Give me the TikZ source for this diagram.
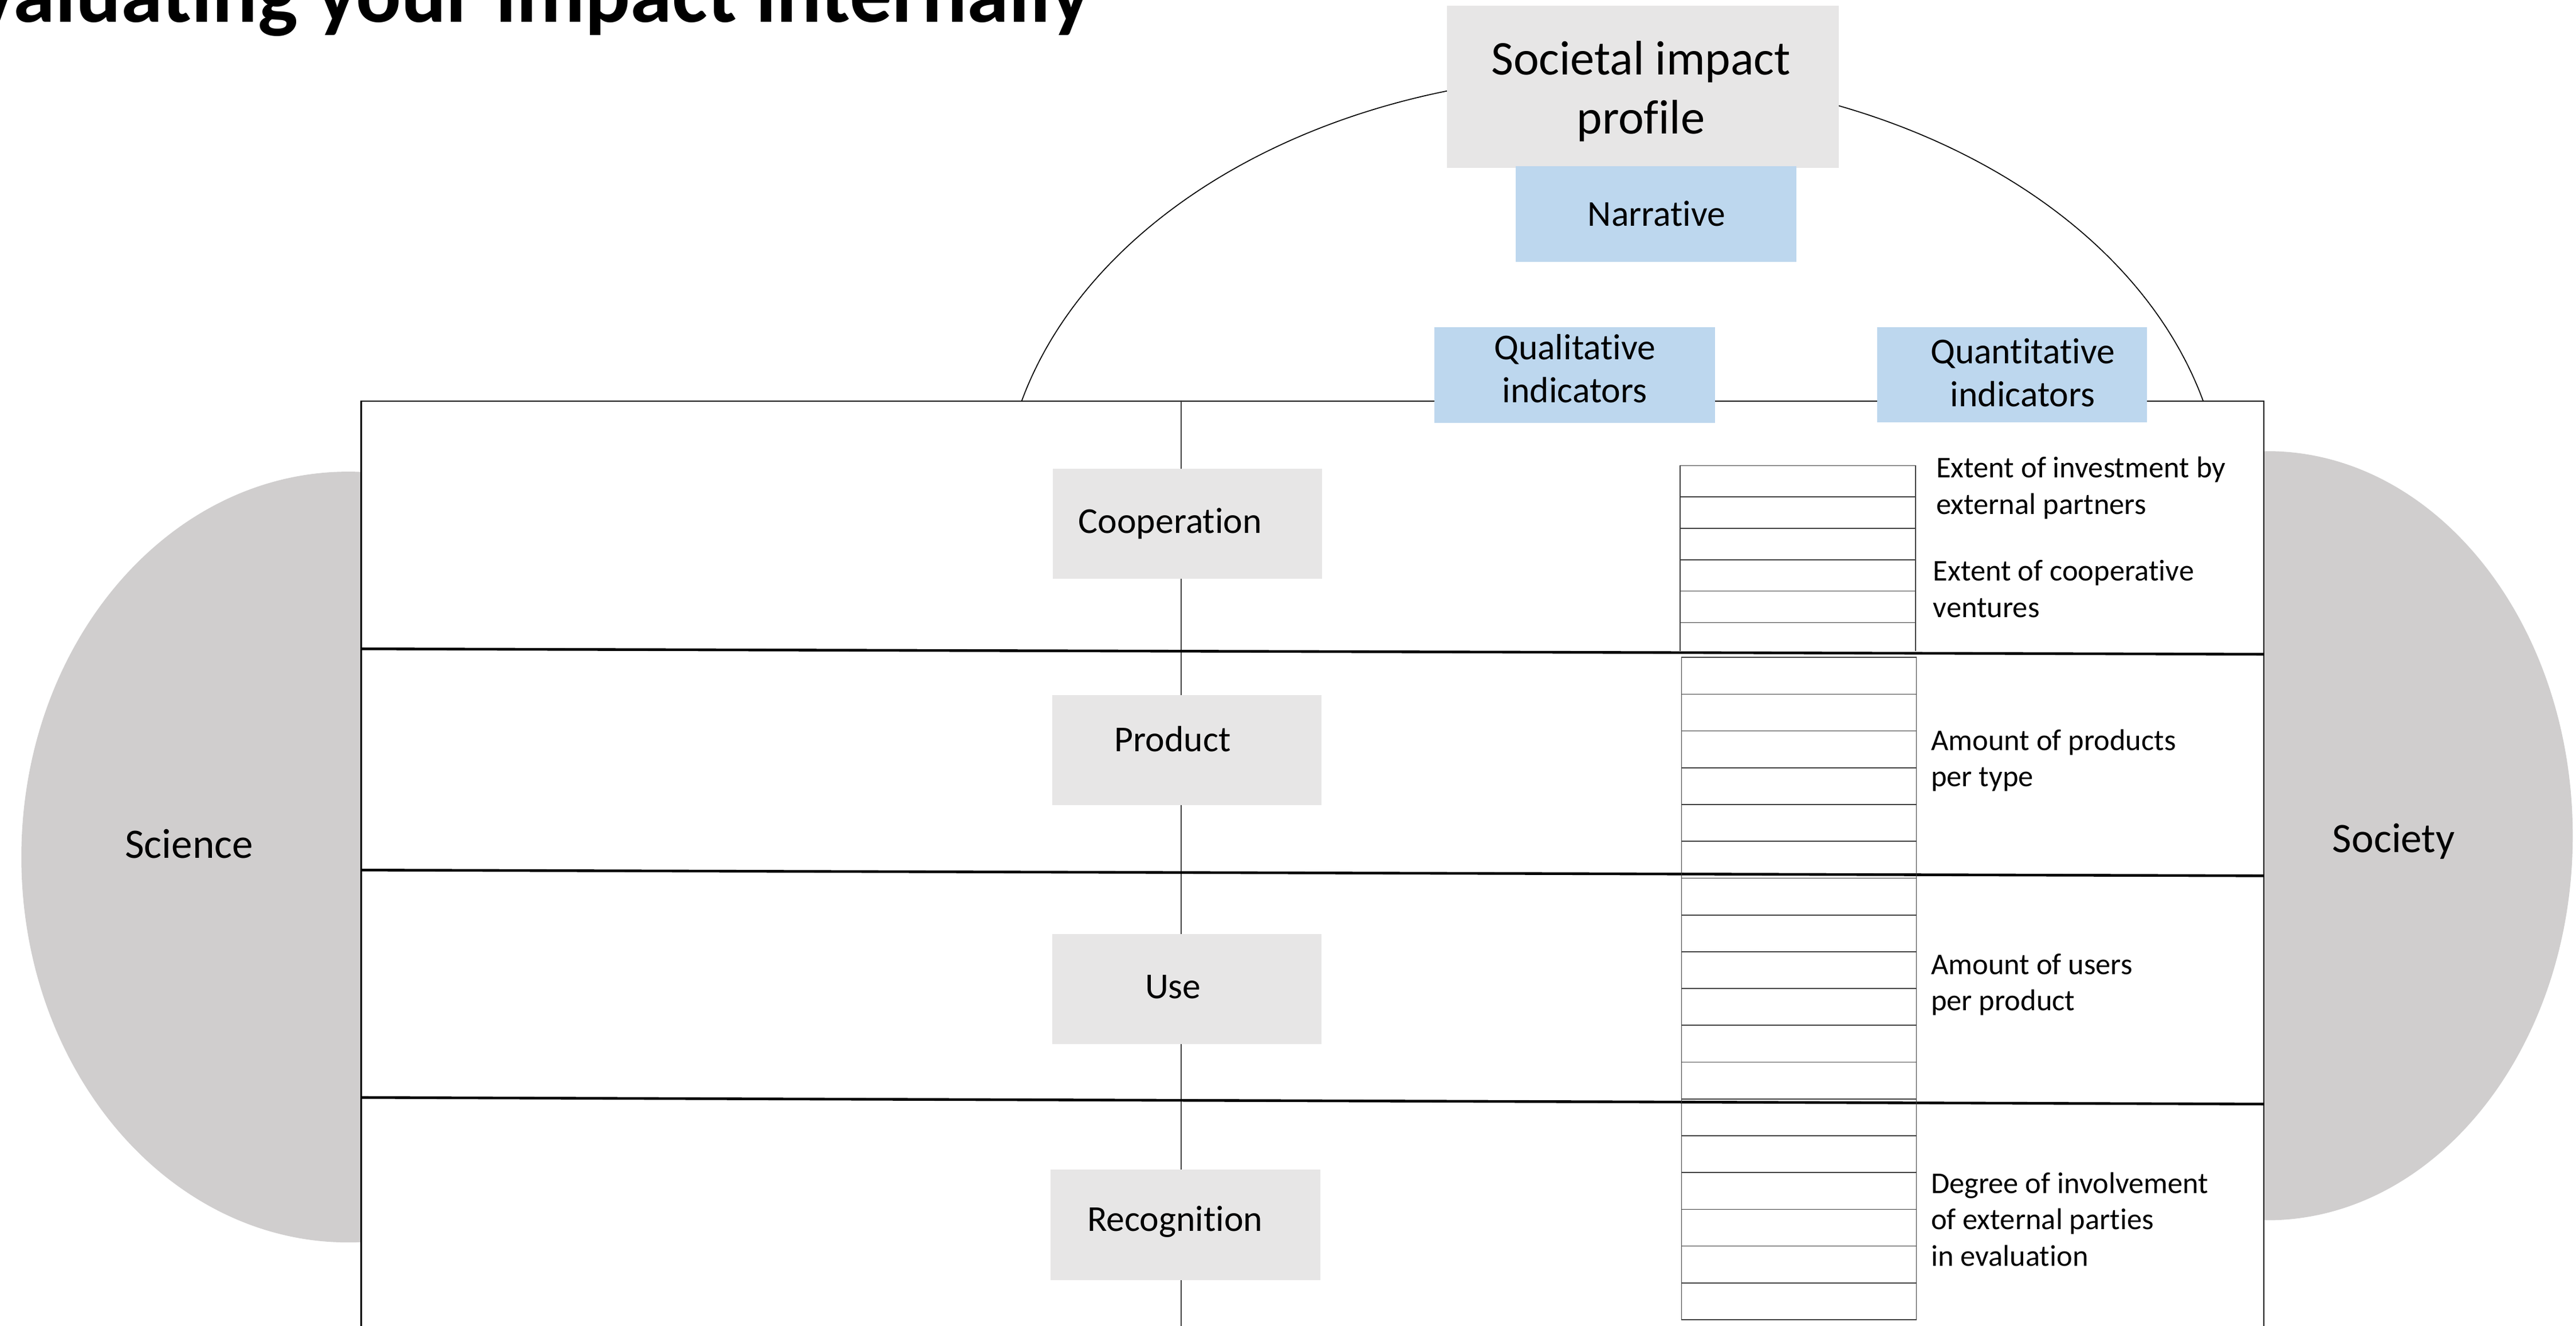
\documentclass[tikz,border=0pt]{standalone}
\usepackage{fontspec}
\setmainfont{Carlito}[Ligatures={NoCommon}]
\usepackage{tikz}
\usepackage{xcolor}
\definecolor{sidebg}{RGB}{208,206,206}
\definecolor{boxbg}{RGB}{231,230,230}
\definecolor{indbg}{RGB}{189,215,238}
\definecolor{linescolor}{rgb}{0.25,0.25,0.25}
\newcommand{\drawstacks}{
	% stack of the first row
	\foreach \i in {0,...,5}
		\draw[gridline] (1022.7,283.3+19.1*\i) -- (1166,283.3+19.1*\i);
	\draw[gridline] (1022.7,283.3) -- (1022.7,396);
	\draw[gridline] (1166,283.3) -- (1166,396);
	% stack of the other rows
	\draw[gridline] (1023.5,400) rectangle (1166.5,803);
	\foreach \i in {1,...,17}
		\draw[gridline] (1023.5,400+22.39*\i) -- (1166.5,400+22.39*\i);
}

\tikzset{
	graybox/.style={fill=boxbg,inner sep=0pt},
	bluebox/.style={fill=indbg,inner sep=0pt,minimum width=85.5pt,minimum height=29.1pt},
	catbox/.style={graybox,minimum width=82pt,minimum height=33.5pt},
	boxtext/.style={anchor=base,inner sep=0pt,align=center},
	indtext/.style={anchor=base west,inner sep=0pt,align=left},
	rowline/.style={line width=0.8pt},
	gridline/.style={color=linescolor,line width=0.3pt}
}

\begin{document}
\begin{tikzpicture}[x=0.5pt,y=-0.5pt]

\newcommand{\mytitlefont}{\bfseries\fontsize{25.7}{30}\selectfont}
\newcommand{\myprofilefont}{\fontsize{14.75}{17.95}\selectfont}
\newcommand{\myboxfont}{\fontsize{11.1}{13.1}\selectfont}
\newcommand{\mysidefont}{\fontsize{12.75}{15}\selectfont}
\newcommand{\myindfont}{\fontsize{9.15}{11.1}\selectfont}

% page area
\useasboundingbox (0,0) rectangle (1568,806.5);
\clip (0,0) rectangle (1568,806.5);

% science and society
\fill[sidebg] (212,521.5) ellipse [x radius=199, y radius=234.5];
\fill[sidebg] (1380,508.5) ellipse [x radius=186, y radius=234];

% arc over the table
\draw[line width=0.3pt] (1341.05,244) arc [start angle=-14.84, end angle=-165.16, x radius=372, y radius=267];

% the table
\draw[fill=white,line width=0.4pt] (219.8,244) rectangle (1378,830);
\coordinate (coltop) at (719,244);
\coordinate (colbottom) at (719,830);
\draw[color=black!75,line width=0.25pt] (coltop) -- (colbottom);

\draw[rowline] (219.8,394.8) -- (1378,398.1);
\draw[rowline] (219.8,529.4) -- (1378,532.9);
\draw[rowline] (219.8,667.8) -- (1378,671.8);

\drawstacks

% top boxes
\node [graybox,minimum width=119.3pt,minimum height=49.4pt] (profile) at (1000,52.9) {};
\node [bluebox] (narrative) at (1008,130.1) {};
\node [bluebox] (qualitative) at (958.5,228.1) {};
\node [bluebox,minimum width=82pt,minimum height=28.9pt] (quantitative) at (1224.75,228.1) {};

% (multi-line texts sit on their last line)
\node [boxtext,font=\myprofilefont] (profiletext) at (998.8,81.5) {Societal impact\\profile};
\node [boxtext,font=\myboxfont] (narrativetext) at (1008.4,137.7) {Narrative};
\node [boxtext,font=\myboxfont] (qualitativetext) at (958.6,245) {Qualitative\\indicators};
\node [boxtext,font=\myboxfont] (quantitativetext) at (1231.2,247.3) {Quantitative\\indicators};

% rows
\node [catbox] (cooperation) at (722.7,318.6) {};
\node [catbox] (product) at (722.5,456.3) {};
\node [catbox] (use) at (722.5,601.9) {};
\node [catbox] (recognition) at (721.6,745.3) {};

\node [boxtext,font=\myboxfont] (cooperationtext) at (712.3,324.3) {Cooperation};
\node [boxtext,font=\myboxfont] (producttext) at (713.8,457.3) {Product};
\node [boxtext,font=\myboxfont] (usetext) at (714,607.4) {Use};
\node [boxtext,font=\myboxfont] (recognitiontext) at (715.2,749) {Recognition};

% quantitative indicators per row
\node [indtext,font=\myindfont] (investment) at (1178.2,312.8) {Extent of investment by\\external partners};
\node [indtext,font=\myindfont] (ventures) at (1176.3,375.7) {Extent of cooperative\\ventures};
\node [indtext,font=\myindfont] (products) at (1175,478.7) {Amount of products\\per type};
\node [indtext,font=\myindfont] (users) at (1175,615) {Amount of users\\per product};
\node [indtext,font=\myindfont] (involvement) at (1175,770.4) {Degree of involvement\\of external parties\\in evaluation};

% sides
\node [boxtext,font=\mysidefont] (science) at (115.1,522.3) {Science};
\node [boxtext,font=\mysidefont] (society) at (1457,518.6) {Society};

% title
\node [anchor=base east,inner sep=0pt,font=\mytitlefont] (title) at (664,13.3) {Evaluating your impact internally};

\end{tikzpicture}
\end{document}
